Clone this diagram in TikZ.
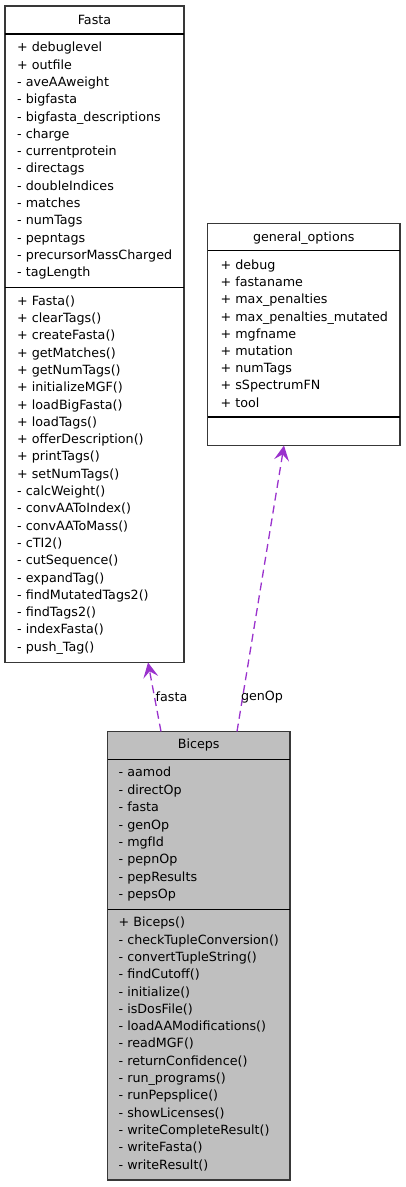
\documentclass[tikz,border=0pt]{standalone}
\usepackage{fontspec}
\setmainfont{DejaVu Sans}
\usetikzlibrary{arrows.meta}
\definecolor{arrowc}{HTML}{9A32CD}
\definecolor{boxgray}{HTML}{BFBFBF}
\tikzset{
  classbox/.style={draw=black!78, line width=1.1pt, inner sep=0pt, outer sep=0pt},
  sepline/.style={draw=black, line width=1.8pt},
  member/.style={anchor=base west, inner sep=0pt, font=\fontsize{12.7}{15}\selectfont},
  title/.style={anchor=base, inner sep=0pt, font=\fontsize{12.7}{15}\selectfont},
  dep/.style={draw=arrowc, line width=1.3pt, dash pattern=on 8pt off 5pt,
    -{Stealth[length=15pt,width=15pt,inset=6pt]}},
  deplabel/.style={inner sep=0pt, font=\fontsize{12.7}{15}\selectfont}
}
\begin{document}
\begin{tikzpicture}[x=1pt,y=-1pt]
\useasboundingbox (0,0) rectangle (405,1187);
% ---- Fasta
\node[classbox, fill=white, minimum width=179pt, minimum height=656.5pt] (fasta) at (94.5,334.25) {};
\draw[sepline] (fasta.west |- 0,34) -- (fasta.east |- 0,34);
\draw[sepline] (fasta.west |- 0,287.5) -- (fasta.east |- 0,287.5);
\node[title] (fastatitle) at (94.5,24.5) {Fasta};
\foreach \t [count=\i from 0] in {+ debuglevel,+ outfile,- aveAAweight,- bigfasta,- bigfasta\_descriptions,- charge,- currentprotein,- directags,- doubleIndices,- matches,- numTags,- pepntags,- precursorMassCharged,- tagLength}
  \node[member] (fa\i) at (17,47.3+4.5+17.3*\i) {\t};
\foreach \t [count=\i from 0] in {+ Fasta(),+ clearTags(),+ createFasta(),+ getMatches(),+ getNumTags(),+ initializeMGF(),+ loadBigFasta(),+ loadTags(),+ offerDescription(),+ printTags(),+ setNumTags(),- calcWeight(),- convAAToIndex(),- convAAToMass(),- cTI2(),- cutSequence(),- expandTag(),- findMutatedTags2(),- findTags2(),- indexFasta(),- push\_Tag()}
  \node[member] (fm\i) at (17,300.7+4.5+17.3*\i) {\t};
% ---- general_options
\node[classbox, fill=white, minimum width=192.5pt, minimum height=222pt] (genop) at (303.75,334.5) {};
\draw[sepline] (genop.west |- 0,250.5) -- (genop.east |- 0,250.5);
\draw[sepline] (genop.west |- 0,417) -- (genop.east |- 0,417);
\node[title] (genoptitle) at (303.75,241.2) {general\_options};
\foreach \t [count=\i from 0] in {+ debug,+ fastaname,+ max\_penalties,+ max\_penalties\_mutated,+ mgfname,+ mutation,+ numTags,+ sSpectrumFN,+ tool}
  \node[member] (ga\i) at (220.5,265+4.5+17.2*\i) {\t};
% ---- Biceps
\node[classbox, fill=boxgray, minimum width=182.5pt, minimum height=448.5pt] (biceps) at (198.75,955.75) {};
\draw[sepline] (biceps.west |- 0,759.5) -- (biceps.east |- 0,759.5);
\draw[sepline] (biceps.west |- 0,909.5) -- (biceps.east |- 0,909.5);
\node[title] (bicepstitle) at (198.75,748.8) {Biceps};
\foreach \t [count=\i from 0] in {- aamod,- directOp,- fasta,- genOp,- mgfId,- pepnOp,- pepResults,- pepsOp}
  \node[member] (ba\i) at (118.5,772.3+4.5+17.4*\i) {\t};
\foreach \t [count=\i from 0] in {+ Biceps(),- checkTupleConversion(),- convertTupleString(),- findCutoff(),- initialize(),- isDosFile(),- loadAAModifications(),- readMGF(),- returnConfidence(),- run\_programs(),- runPepsplice(),- showLicenses(),- writeCompleteResult(),- writeFasta(),- writeResult()}
  \node[member] (bm\i) at (118.5,922.3+4.5+17.3*\i) {\t};
% ---- connectors
\draw[dep] (biceps.north -| 161,0) -- (fasta.south -| 148,0);
\draw[dep] (biceps.north -| 237,0) -- (genop.south -| 284,0);
\node[deplabel] (lfasta) at (171.5,697) {fasta};
\node[deplabel] (lgenop) at (262,697) {genOp};
\end{tikzpicture}
\end{document}
